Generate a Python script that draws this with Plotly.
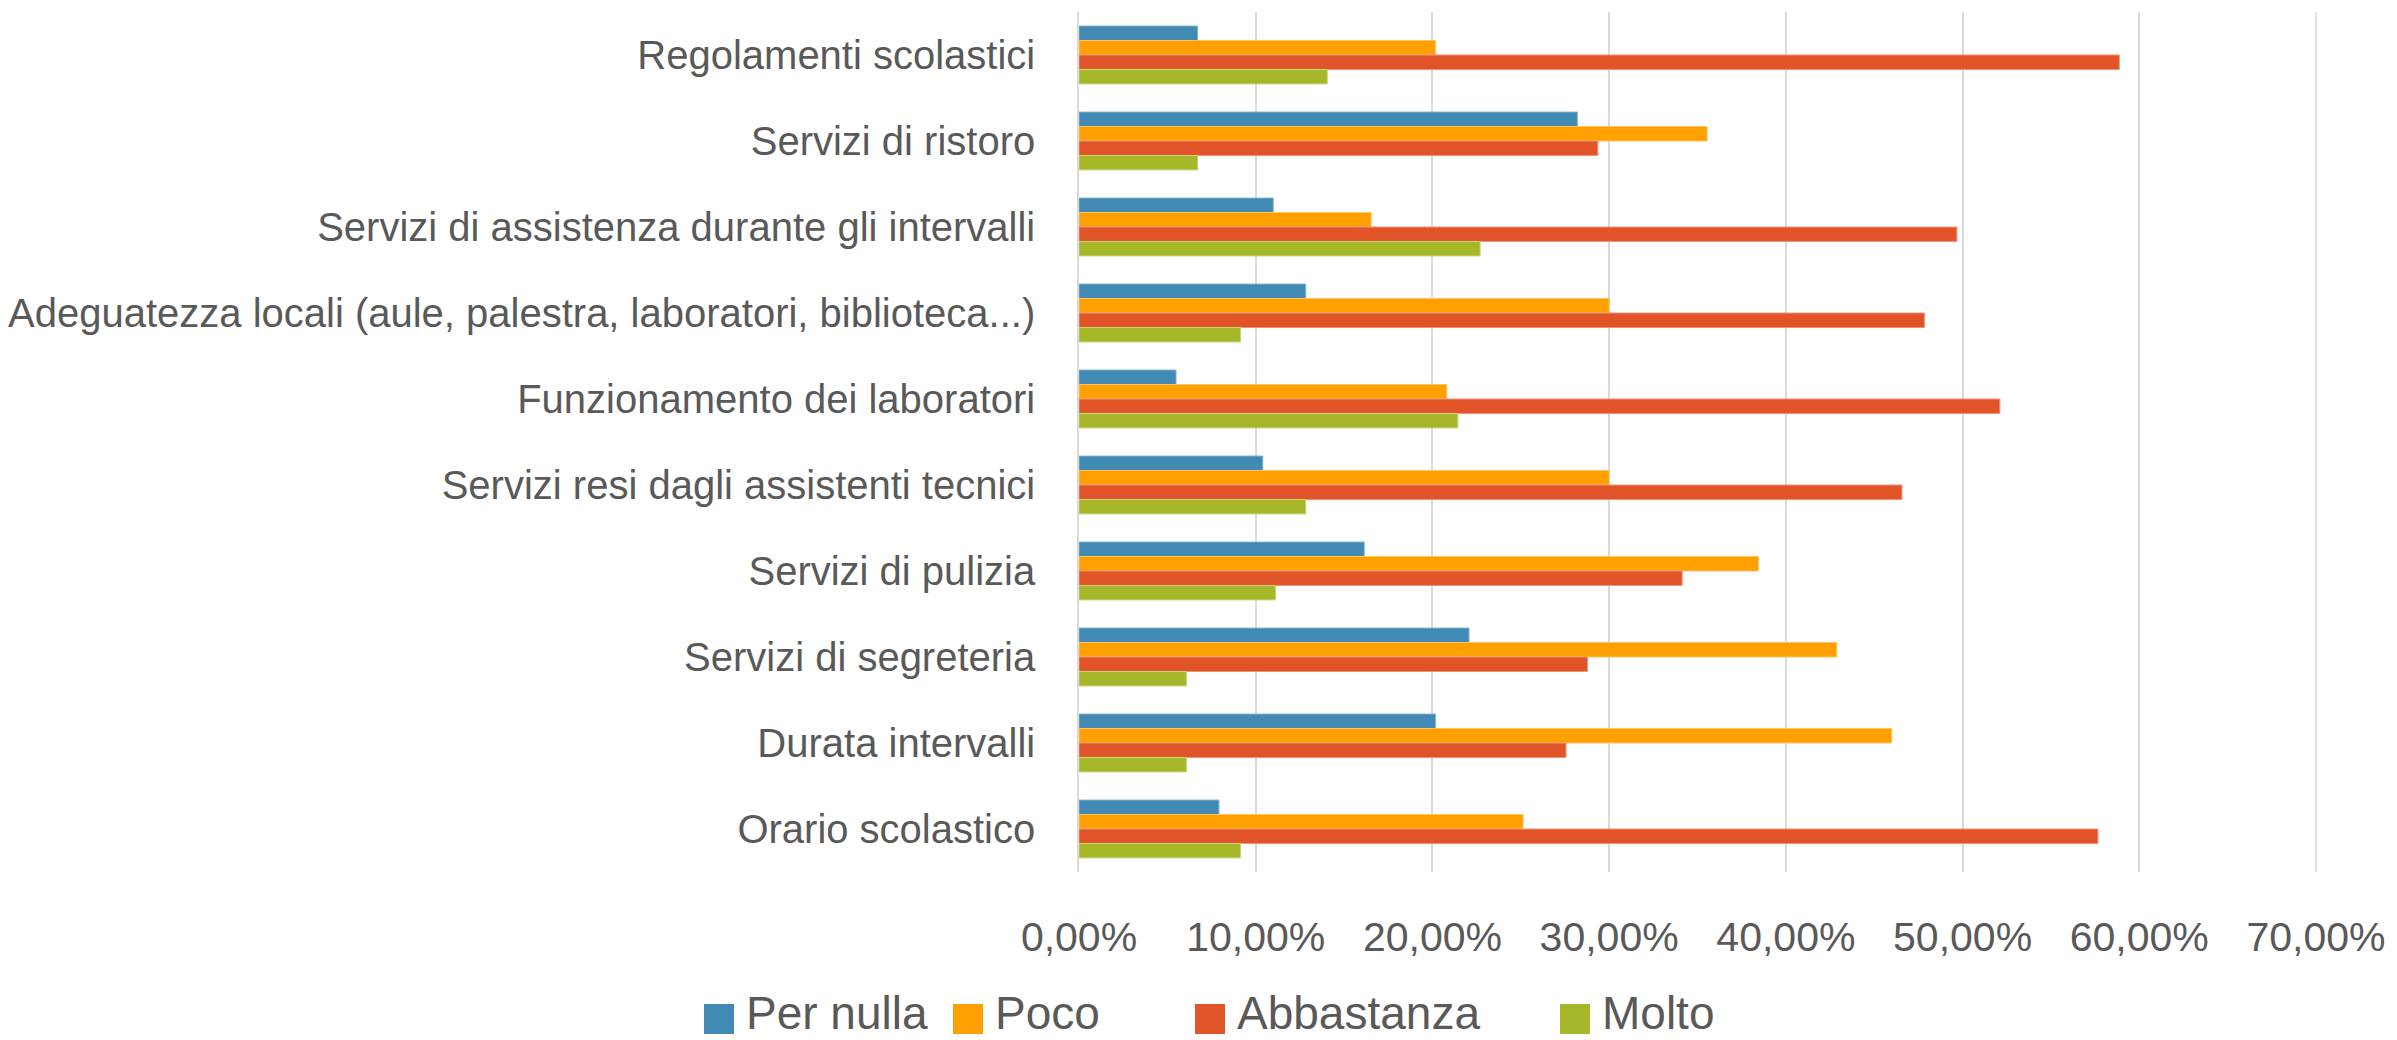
import plotly.graph_objects as go

categories = [
    "Regolamenti scolastici",
    "Servizi di ristoro",
    "Servizi di assistenza durante gli intervalli",
    "Adeguatezza locali (aule, palestra, laboratori, biblioteca...)",
    "Funzionamento dei laboratori",
    "Servizi resi dagli assistenti tecnici",
    "Servizi di pulizia",
    "Servizi di segreteria",
    "Durata intervalli",
    "Orario scolastico",
]

per_nulla = [0.0671, 0.2820, 0.1099, 0.1283, 0.0549, 0.1040, 0.1614, 0.2207, 0.2017, 0.0792]
poco = [0.2017, 0.3554, 0.1653, 0.3000, 0.2081, 0.3000, 0.3845, 0.4288, 0.4599, 0.2513]
abbastanza = [0.5887, 0.2936, 0.4968, 0.4784, 0.5211, 0.4657, 0.3413, 0.2878, 0.2756, 0.5766]
molto = [0.1405, 0.0671, 0.2270, 0.0914, 0.2144, 0.1283, 0.1113, 0.0608, 0.0608, 0.0914]

series_names = ["Per nulla", "Poco", "Abbastanza", "Molto"]
series_values = [per_nulla, poco, abbastanza, molto]
series_colors = ["#418AB3", "#FFA000", "#E15427", "#A6B72A"]
edge_colors = ["#7FB0CC", "#FFC266", "#EC9478", "#C9D47A"]

FONT = "Liberation Sans, Arial, sans-serif"
TXT = "#595959"

# layout geometry (pixels)
W, H = 2397, 1040
L, R, T, B = 1079, 81, 12, 168
PW, PH = W - L - R, H - T - B

fig = go.Figure()
for name, vals, col, edge in zip(series_names, series_values, series_colors, edge_colors):
    fig.add_trace(go.Bar(
        y=categories, x=vals, name=name, orientation="h",
        marker=dict(color=col, line=dict(color=edge, width=1)),
        showlegend=False,
    ))

# custom legend (large square swatches like the original)
legend_sq_x = [704, 953, 1195, 1560]   # left edge of swatches, px
sq = 30
legend_cy = 1019
text_cy = 1013
shapes = []
for name, col, x0 in zip(series_names, series_colors, legend_sq_x):
    shapes.append(dict(
        type="rect", xref="paper", yref="paper",
        x0=(x0 - L) / PW, x1=(x0 + sq - L) / PW,
        y0=(T + PH - (legend_cy - sq / 2)) / PH, y1=(T + PH - (legend_cy + sq / 2)) / PH,
        fillcolor=col, line=dict(width=0),
    ))
    fig.add_annotation(
        text=name, xref="paper", yref="paper",
        x=(x0 + sq + 10 - L) / PW, y=(T + PH - text_cy) / PH,
        xanchor="left", yanchor="middle", showarrow=False,
        font=dict(size=46, color=TXT, family=FONT),
    )

# right-hand 70% gridline (plotly skips the gridline at the range end)
shapes.append(dict(
    type="line", xref="paper", yref="paper", x0=1, x1=1, y0=0, y1=1,
    line=dict(color="#D9D9D9", width=1.5), layer="below",
))

fig.update_layout(
    width=W, height=H,
    paper_bgcolor="white", plot_bgcolor="white",
    barmode="group", bargap=0.327, bargroupgap=0,
    separators=",.",
    margin=dict(l=L, r=R, t=T, b=B),
    font=dict(family=FONT, color=TXT, size=40),
    showlegend=False,
    shapes=shapes,
)
fig.update_xaxes(
    range=[0, 0.7], dtick=0.1, tickformat=".2%",
    showgrid=True, gridcolor="#D9D9D9", gridwidth=1.5,
    zeroline=False, showline=False, automargin=False,
    ticks="outside", ticklen=29, tickcolor="rgba(0,0,0,0)",
    tickfont=dict(size=41, color=TXT),
)
fig.update_yaxes(
    autorange="reversed", type="category",
    showgrid=False, zeroline=False, automargin=False,
    showline=True, linecolor="#D9D9D9", linewidth=1.5,
    ticks="outside", ticklen=34, tickcolor="rgba(0,0,0,0)",
    tickfont=dict(size=40, color=TXT),
)

fig.write_html(
    "out.html",
    config={"displayModeBar": False},
    post_script="document.body.style.margin='0';",
)
